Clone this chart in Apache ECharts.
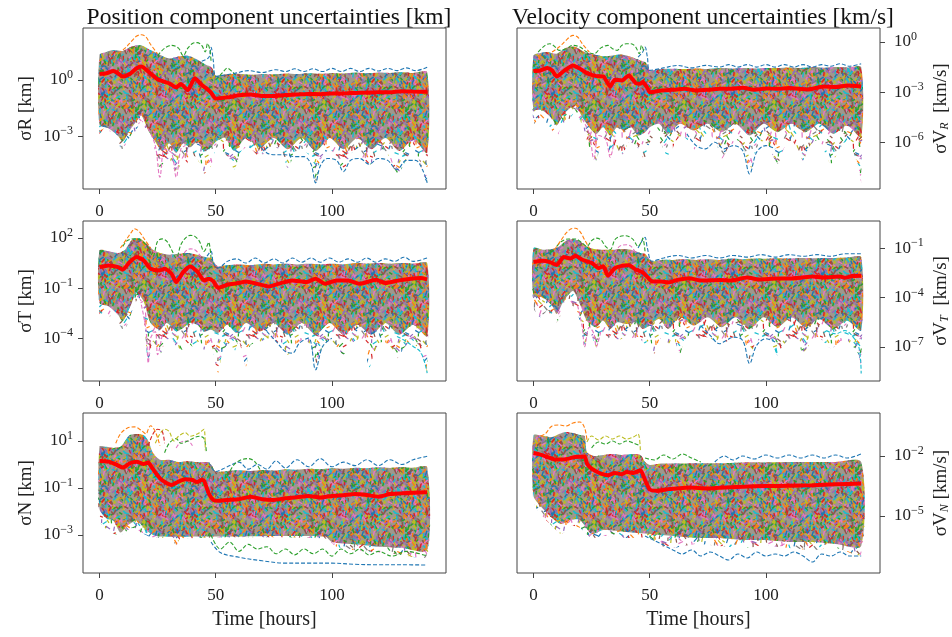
<!DOCTYPE html>
<html>
<head>
<meta charset="utf-8">
<script src="https://cdn.jsdelivr.net/npm/echarts@6.0.0/dist/echarts.min.js"></script>
<style>
html, body { margin: 0; padding: 0; background: #fff; }
#chart { width: 952px; height: 637px; }
</style>
</head>
<body>
<div id="chart"></div>
<script>
// all y values are log10 of the uncertainty, x values are hours
var hourTicks = [0, 50, 100]
var tab10 = ['#1f77b4', '#ff7f0e', '#2ca02c', '#d62728', '#9467bd', '#8c564b', '#e377c2', '#7f7f7f', '#bcbd22', '#17becf']

// ---- sigma R [km]
var rMean = [[0,0.32],[3,0.36],[6,0.48],[8,0.35],[10,0.18],[13,0.32],[16,0.63],[18,0.72],[21,0.45],[25,0.04],[28,-0.1],[30,-0.18],[33,-0.4],[35,-0.22],[38,-0.54],[41,0.09],[44,-0.27],[46,-0.45],[48,-0.68],[50,-0.99],[55,-0.93],[60,-0.82],[65,-0.78],[70,-0.86],[75,-0.85],[80,-0.8],[85,-0.78],[90,-0.75],[95,-0.76],[100,-0.72],[105,-0.72],[110,-0.69],[115,-0.67],[120,-0.65],[125,-0.66],[130,-0.6],[135,-0.62],[141,-0.63]]
var rUpper = [[0,1.35],[3,1.5],[6,1.6],[10,1.55],[14,1.8],[18,1.85],[22,1.6],[26,1.35],[30,1.15],[34,1.25],[38,1.3],[42,1.1],[46,0.8],[48,0.7],[49.5,0.4],[50,0.22],[55,0.3],[60,0.33],[65,0.28],[70,0.32],[75,0.3],[80,0.35],[85,0.32],[90,0.36],[95,0.33],[100,0.38],[105,0.35],[110,0.4],[115,0.36],[120,0.4],[125,0.38],[130,0.42],[135,0.38],[141,0.42]]
var rCore = [[0,-2.4],[4,-2.6],[8,-3.0],[10,-3.3],[13,-2.7],[16,-2.2],[18,-1.9],[21,-2.7],[24,-3.3],[27,-3.8],[30,-3.4],[33,-3.9],[36,-3.4],[39,-3.6],[42,-3.3],[45,-3.8],[48,-3.6],[50,-3.3],[54,-3.1],[58,-3.8],[63,-3.1],[69,-3.6],[75,-3.1],[81,-3.7],[87,-3.1],[93,-3.8],[99,-3.1],[105,-3.7],[111,-3.1],[117,-3.7],[123,-3.1],[129,-3.8],[135,-3.2],[141,-3.9]]
var rDeep = [[0,-2.9],[2,-2.6],[5,-2.8],[8,-3.3],[10,-3.9],[12,-3.2],[15,-2.9],[18,-2.2],[21,-3.0],[24,-3.8],[26,-4.7],[28,-4.5],[30,-4.2],[33,-5.0],[35,-4.5],[37,-4.8],[39,-4.0],[42,-4.2],[45,-5.0],[48,-4.6],[50,-3.8],[53,-3.8],[56,-4.3],[58,-4.8],[61,-3.8],[64,-3.6],[67,-3.9],[69,-4.2],[72,-3.7],[76,-3.6],[79,-4.0],[81,-4.7],[84,-4.0],[88,-3.8],[91,-4.2],[93,-5.5],[95,-4.3],[99,-3.7],[102,-4.2],[105,-4.8],[108,-4.0],[111,-3.7],[114,-4.3],[116,-4.6],[119,-4.0],[122,-3.7],[125,-4.2],[128,-5.1],[131,-4.5],[134,-3.9],[137,-4.1],[140,-5.3],[141,-5.5]]
var rOrangePeak = [[8,1.4],[11,1.7],[14,2.1],[16,2.35],[18,2.42],[20,2.3],[22,1.9],[25,1.4]]
var rGreenArcs = [[25,1.3],[28,1.7],[31,1.85],[34,1.7],[36,1.3],[38,1.7],[40,1.95],[42,2.0],[44,1.85],[45.5,1.5],[46.5,1.95],[47.5,1.6],[48,1.0]]
var rBlueTop = [[44,1.0],[47,1.2],[48,1.75],[49,1.0],[50,0.2],[58,0.35],[64,0.5],[70,0.4],[76,0.55],[80,0.45],[84,0.6],[88,0.45],[92,0.6],[96,0.45],[100,0.62],[104,0.45],[108,0.62],[112,0.45],[116,0.62],[120,0.48],[124,0.62],[128,0.5],[132,0.65],[136,0.5],[141,0.68]]
var rGreenTop = [[50,0.0],[53,0.4],[55,0.63],[57,0.45],[60,0.1]]
var rBlueLow = [[68,-3.4],[72,-3.9],[76,-4.0],[80,-4.0],[84,-4.1],[88,-4.1],[91,-4.5],[93,-5.5],[95,-4.6],[98,-4.2],[102,-4.3],[105,-4.9],[108,-4.3],[112,-4.2],[116,-4.5],[120,-4.2],[124,-4.3],[128,-4.8],[132,-4.3],[136,-4.3],[139,-4.8],[141,-5.5]]
var rPinkDips = [[21,-2.6],[24,-3.5],[26,-5.2],[28,-3.7],[31,-3.9],[33,-5.2],[35,-3.7],[37,-3.5]]

// ---- sigma V_R [km/s]
var vrMean = [[0,-1.74],[3,-1.7],[6,-1.56],[8,-1.7],[10,-2.06],[13,-1.74],[17,-1.4],[20,-1.6],[23,-1.86],[27,-2.04],[30,-2.06],[33,-2.66],[35,-2.26],[38,-2.3],[41,-2.0],[44,-2.46],[46,-2.5],[47,-2.4],[49,-2.74],[50,-3.0],[55,-2.9],[60,-2.86],[65,-2.8],[70,-2.9],[75,-2.86],[80,-2.8],[85,-2.8],[90,-2.74],[95,-2.86],[100,-2.78],[105,-2.8],[110,-2.76],[118,-2.84],[125,-2.66],[130,-2.7],[135,-2.6],[141,-2.66]]
var vrUpper = [[0,-0.8],[3,-0.65],[6,-0.6],[10,-0.7],[14,-0.35],[18,-0.3],[22,-0.6],[26,-0.75],[30,-0.85],[34,-0.8],[38,-0.75],[42,-0.9],[46,-1.1],[48,-1.2],[49.5,-1.5],[50,-1.7],[55,-1.62],[60,-1.6],[65,-1.62],[70,-1.58],[75,-1.62],[80,-1.56],[85,-1.58],[90,-1.55],[95,-1.58],[100,-1.55],[105,-1.56],[110,-1.52],[115,-1.55],[120,-1.5],[125,-1.54],[130,-1.5],[135,-1.52],[141,-1.5]]
var vrCore = [[0,-4.0],[4,-4.1],[8,-4.6],[10,-5.0],[13,-4.3],[18,-3.8],[21,-4.5],[24,-5.1],[27,-5.5],[30,-5.1],[33,-5.6],[36,-5.1],[39,-5.3],[42,-5.1],[45,-5.6],[48,-5.4],[50,-5.1],[54,-4.9],[58,-5.5],[63,-4.9],[69,-5.3],[75,-4.9],[81,-5.4],[87,-4.9],[93,-5.6],[99,-4.9],[105,-5.4],[111,-4.9],[117,-5.4],[123,-4.9],[129,-5.5],[135,-5.0],[141,-5.7]]
var vrDeep = [[0,-4.9],[3,-4.5],[6,-4.9],[8,-5.3],[10,-5.8],[12,-5.0],[15,-4.7],[18,-4.2],[21,-5.0],[24,-6.3],[26,-6.8],[27,-7.1],[29,-6.2],[31,-6.0],[33,-6.8],[35,-6.2],[38,-6.8],[41,-6.0],[44,-6.2],[46,-6.6],[48,-7.1],[50,-6.0],[53,-5.8],[56,-6.4],[58,-7.0],[61,-6.0],[64,-5.6],[67,-6.0],[70,-6.5],[73,-5.8],[76,-5.6],[79,-6.2],[81,-7.0],[84,-6.3],[88,-5.9],[91,-6.6],[93,-7.9],[95,-6.8],[99,-5.9],[102,-6.5],[105,-7.3],[108,-6.3],[111,-5.9],[114,-6.5],[116,-7.1],[119,-6.2],[122,-5.9],[125,-6.5],[128,-7.3],[131,-6.6],[134,-6.0],[137,-6.4],[140,-7.6],[141,-8.4]]
var vrOrangePeak = [[8,-0.6],[11,-0.3],[14,0.1],[16,0.35],[17,0.4],[19,0.3],[21,-0.1],[24,-0.6]]
var vrGreenArcs = [[2,-0.6],[5,-0.2],[7,-0.1],[9,-0.25],[11,-0.5],[14,-0.4],[17,-0.2],[20,-0.3],[23,-0.6],[26,-0.7],[29,-0.35],[32,-0.2],[34,-0.4],[36,-0.5],[38,-0.2],[40,-0.1],[42,-0.1],[44,-0.3],[45.5,-0.7],[46.5,-0.2],[47.5,-0.6]]
var vrPinkHigh = [[36,-1.3],[38,-1.0],[41,-0.9],[43,-1.0],[45,-1.3]]
var vrBlueTop = [[45,-0.9],[47,-0.6],[48,-0.3],[49,-0.9],[50,-1.7],[56,-1.55],[62,-1.4],[68,-1.55],[74,-1.4],[80,-1.5],[84,-1.35],[88,-1.5],[92,-1.35],[96,-1.5],[100,-1.35],[104,-1.5],[108,-1.35],[112,-1.5],[116,-1.35],[120,-1.5],[124,-1.35],[128,-1.45],[132,-1.3],[136,-1.45],[141,-1.3]]
var vrBlueLow = [[66,-5.5],[70,-6.2],[74,-6.4],[78,-6.0],[82,-6.4],[86,-6.2],[90,-6.5],[93,-7.9],[96,-6.6],[100,-6.2],[104,-6.4]]
var vrPinkDips = [[21,-4.6],[24,-5.5],[26,-7.0],[28,-5.6],[31,-5.8],[33,-6.9],[35,-5.6]]

// ---- sigma T [km]
var tMean = [[0,0.26],[4,0.36],[8,0.26],[10,0.1],[13,0.56],[16,0.86],[19,0.66],[22,0.16],[26,0.06],[28,0.16],[31,-0.14],[33,-0.64],[36,-0.04],[39,0.3],[42,0.0],[45,-0.54],[47,-0.44],[49,-0.6],[51,-0.98],[55,-0.8],[60,-0.7],[63,-0.6],[68,-0.75],[73,-0.9],[78,-0.7],[83,-0.54],[89,-0.64],[93,-0.44],[97,-0.74],[102,-0.54],[107,-0.55],[112,-0.74],[119,-0.5],[123,-0.7],[129,-0.54],[134,-0.44],[138,-0.4],[141,-0.48]]
var tUpper = [[0,1.26],[4,1.2],[8,1.1],[11,1.3],[14,1.9],[17,2.0],[20,1.7],[23,1.3],[26,1.1],[30,1.0],[34,1.05],[38,1.1],[42,1.0],[46,0.85],[48,0.8],[49.5,0.5],[51,0.3],[55,0.38],[60,0.42],[65,0.38],[70,0.45],[75,0.42],[80,0.46],[85,0.42],[90,0.46],[95,0.42],[100,0.46],[105,0.42],[110,0.5],[115,0.46],[120,0.5],[125,0.46],[130,0.5],[135,0.46],[141,0.5]]
var tCore = [[0,-1.9],[4,-2.1],[8,-2.6],[10,-3.0],[13,-2.2],[16,-1.3],[19,-1.8],[22,-3.1],[26,-3.5],[29,-3.1],[33,-3.6],[36,-3.4],[39,-3.1],[42,-3.2],[45,-3.6],[48,-3.5],[51,-3.7],[55,-3.2],[59,-3.7],[63,-3.1],[69,-3.6],[75,-3.1],[81,-3.8],[87,-3.1],[93,-3.8],[99,-3.1],[105,-3.8],[111,-3.2],[117,-3.8],[123,-3.1],[129,-3.8],[135,-3.2],[141,-3.9]]
var tDeep = [[0,-2.6],[3,-2.8],[6,-2.6],[8,-3.0],[10,-3.5],[12,-3.2],[15,-2.0],[17,-1.6],[19,-2.8],[21,-5.5],[23,-4.2],[26,-5.0],[28,-4.3],[31,-4.0],[33,-4.5],[36,-4.7],[38,-4.3],[40,-4.5],[43,-4.2],[45,-4.7],[48,-4.4],[51,-6.1],[53,-4.8],[56,-4.3],[58,-4.8],[60,-4.2],[63,-5.7],[65,-4.4],[69,-4.3],[72,-4.0],[75,-4.4],[78,-4.2],[81,-5.0],[84,-4.4],[88,-4.1],[91,-4.5],[93,-5.9],[95,-4.8],[99,-4.1],[102,-4.5],[105,-5.0],[108,-4.4],[111,-4.1],[114,-4.6],[116,-5.8],[119,-4.6],[122,-4.2],[125,-4.5],[128,-5.2],[131,-4.6],[134,-4.2],[137,-4.6],[140,-5.5],[141,-6.1]]
var tOrangePeak = [[9,1.4],[12,2.0],[14,2.4],[15,2.56],[17,2.4],[19,2.0],[22,1.4]]
var tGreenArcs = [[10,1.5],[12,1.85],[15,1.95],[18,1.85],[21,1.4],[23,0.9],[25,1.8],[27,1.95],[29,1.8],[31,1.3],[33,0.8],[35,1.6],[37,2.0],[39,2.16],[41,2.1],[43,1.8],[45,1.2],[46.5,1.6],[47,1.76],[48,0.8]]
var tPinkArc = [[35,0.8],[37,1.2],[39,1.35],[41,1.3],[43,1.0],[45,0.6]]
var tBlueTop = [[45,0.6],[48,1.2],[49,0.5],[51,0.2],[55,0.6],[59,0.75],[63,0.5],[67,0.8],[71,0.5],[75,0.75],[79,0.5],[83,0.8],[87,0.55],[91,0.8],[95,0.55],[99,0.8],[103,0.55],[107,0.75],[111,0.55],[115,0.8],[119,0.55],[123,0.75],[127,0.6],[131,0.85],[135,0.6],[141,0.8]]
var tBlueLow = [[72,-3.6],[76,-4.2],[80,-4.8],[83,-4.9],[86,-4.3],[90,-4.0],[93,-5.9],[96,-4.5],[100,-4.0]]
var tPinkDips = [[18,-2.0],[20,-3.5],[21,-5.5],[22,-4.0],[24,-3.6],[25,-5.0],[27,-3.8]]
var tCyanEnd = [[128,-3.9],[132,-4.2],[135,-4.5],[138,-4.8],[140,-5.5],[141,-6.1]]

// ---- sigma V_T [km/s]
var vtMean = [[0,-1.85],[4,-1.77],[7,-1.85],[10,-2.03],[13,-1.55],[16,-1.63],[18,-1.47],[21,-1.71],[25,-1.9],[28,-2.22],[30,-2.1],[32,-2.68],[35,-2.22],[38,-2.08],[41,-2.05],[44,-2.3],[47,-2.48],[49,-2.75],[51,-3.03],[55,-3.03],[58,-3.09],[62,-2.93],[67,-2.83],[72,-2.97],[80,-2.93],[85,-2.97],[92,-2.79],[97,-2.9],[105,-2.85],[110,-2.85],[115,-2.8],[120,-2.72],[125,-2.78],[132,-2.72],[134,-2.8],[137,-2.7],[141,-2.68]]
var vtUpper = [[0,-1.0],[4,-1.1],[8,-1.05],[11,-0.9],[14,-0.55],[17,-0.45],[20,-0.6],[23,-0.9],[26,-1.05],[30,-1.1],[34,-1.1],[38,-1.05],[42,-1.1],[46,-1.3],[48,-1.35],[49.5,-1.6],[51,-1.8],[55,-1.72],[60,-1.72],[65,-1.68],[70,-1.72],[75,-1.68],[80,-1.72],[85,-1.64],[90,-1.68],[95,-1.64],[100,-1.65],[105,-1.62],[110,-1.64],[115,-1.6],[120,-1.62],[125,-1.6],[130,-1.6],[135,-1.58],[141,-1.56]]
var vtCore = [[0,-3.9],[4,-4.0],[8,-4.5],[10,-5.0],[13,-4.2],[17,-3.6],[20,-4.4],[23,-5.4],[27,-5.8],[30,-5.4],[33,-5.9],[36,-5.5],[40,-5.6],[44,-5.5],[47,-5.9],[50,-5.7],[54,-5.3],[58,-5.9],[63,-5.2],[69,-5.7],[75,-5.2],[81,-5.8],[87,-5.2],[93,-5.9],[99,-5.2],[105,-5.8],[111,-5.2],[117,-5.8],[123,-5.3],[129,-5.9],[135,-5.4],[141,-6.0]]
var vtDeep = [[0,-4.6],[3,-5.2],[6,-4.8],[8,-5.2],[10,-5.5],[12,-5.0],[15,-4.5],[18,-4.6],[20,-5.5],[22,-7.0],[24,-6.0],[27,-7.0],[29,-6.2],[32,-6.5],[34,-6.2],[36,-6.6],[38,-6.5],[41,-6.2],[43,-6.5],[45,-6.4],[48,-6.8],[50,-6.6],[52,-7.4],[54,-6.6],[56,-6.4],[58,-6.9],[60,-6.4],[63,-7.4],[65,-6.6],[68,-6.2],[71,-6.5],[74,-6.4],[78,-6.6],[81,-6.8],[84,-6.6],[88,-6.4],[91,-6.7],[93,-8.0],[95,-6.9],[99,-6.4],[102,-6.7],[105,-7.5],[108,-6.8],[111,-6.5],[114,-6.8],[116,-7.4],[119,-6.8],[122,-6.4],[125,-6.7],[128,-7.1],[131,-6.8],[134,-6.5],[137,-6.9],[140,-7.5],[141,-8.6]]
var vtOrangePeak = [[9,-1.1],[12,-0.5],[14,-0.1],[16,0.15],[18,0.2],[20,0.0],[22,-0.5],[24,-1.0]]
var vtGreenArcs = [[10,-0.9],[12,-0.6],[15,-0.45],[18,-0.45],[21,-0.7],[23,-0.9],[25,-0.55],[27,-0.4],[29,-0.5],[31,-0.9],[33,-1.1],[35,-0.5],[37,-0.3],[39,-0.25],[41,-0.3],[43,-0.5],[45,-0.9],[46.5,-0.6],[47,-0.4],[48,-1.2]]
var vtPinkArc = [[35,-1.3],[37,-0.9],[40,-0.8],[42,-0.9],[44,-1.3]]
var vtBlueTop = [[45,-1.0],[47,-0.5],[48,-0.35],[49,-1.0],[51,-1.8],[56,-1.6],[62,-1.45],[68,-1.6],[74,-1.45],[80,-1.6],[86,-1.45],[92,-1.55],[98,-1.4],[104,-1.55],[110,-1.4],[116,-1.5],[122,-1.4],[128,-1.5],[134,-1.35],[141,-1.35]]
var vtBlueLow = [[72,-5.7],[76,-6.3],[80,-6.8],[83,-6.6],[86,-6.4],[90,-6.6],[93,-8.0],[96,-6.9],[100,-6.5],[104,-6.7]]
var vtPinkDips = [[19,-4.5],[21,-5.8],[22,-7.0],[24,-5.8],[26,-6.2],[27,-7.0],[29,-6.0]]
var vtCyanEnd = [[126,-6.0],[130,-6.2],[134,-6.0],[137,-6.3],[140,-7.0],[141,-8.6]]

// ---- sigma N [km]
var nMean = [[0,0.15],[4,0.12],[7,0.0],[10,-0.13],[13,0.05],[16,0.12],[19,0.02],[21,0.08],[23,-0.2],[26,-0.59],[29,-0.8],[31,-0.87],[34,-0.73],[37,-0.63],[40,-0.66],[42,-0.75],[44,-0.66],[45,-0.7],[47,-1.23],[49,-1.51],[51,-1.55],[55,-1.51],[60,-1.48],[65,-1.37],[70,-1.48],[75,-1.51],[80,-1.44],[85,-1.4],[90,-1.34],[95,-1.41],[100,-1.34],[105,-1.31],[110,-1.26],[115,-1.3],[120,-1.37],[125,-1.26],[130,-1.23],[135,-1.2],[141,-1.18]]
var nUpper = [[0,0.76],[3,0.75],[6,0.7],[9,0.75],[11,1.0],[13,1.25],[16,1.3],[19,1.25],[21,1.0],[23,0.5],[26,0.2],[30,0.2],[34,0.1],[38,0.15],[42,0.1],[46,0.1],[48,0.0],[50,-0.3],[55,-0.28],[60,-0.25],[65,-0.28],[70,-0.24],[75,-0.26],[80,-0.2],[85,-0.22],[90,-0.18],[95,-0.2],[100,-0.16],[105,-0.18],[110,-0.14],[115,-0.16],[120,-0.12],[125,-0.15],[130,-0.12],[135,-0.14],[141,-0.12]]
var nCore = [[0,-1.9],[3,-2.3],[6,-2.4],[9,-2.9],[12,-2.6],[16,-2.4],[20,-2.8],[23,-3.0],[26,-3.07],[50,-3.07],[97,-3.07],[100,-3.3],[110,-3.4],[120,-3.5],[130,-3.55],[141,-3.65]]
var nDeep = [[0,-2.4],[5,-2.9],[9,-3.0],[14,-2.7],[18,-2.9],[22,-3.1],[26,-3.12],[31,-3.15],[33,-3.45],[35,-3.15],[97,-3.15],[102,-3.5],[110,-3.65],[120,-3.75],[130,-3.85],[141,-3.9]]
var nOrangeArc = [[7,0.9],[9,1.3],[12,1.55],[15,1.6],[18,1.45],[20,1.3],[21,1.5],[22,1.65],[24,1.4],[26,0.8]]
var nRedArc = [[21,0.8],[23,1.3],[25,1.5],[27,1.4],[28,0.9]]
var nOliveArcs = [[24,0.9],[26,1.3],[28,1.5],[30,1.4],[32,1.0],[34,1.2],[37,1.35],[39,1.2],[41,1.25],[43,1.35],[45,1.5],[45.5,0.6]]
var nGreenArcs = [[28,0.5],[30,0.9],[33,1.1],[35,0.9],[38,1.0],[41,1.15],[43,1.2],[45,1.1],[46,0.5]]
var nPinkArc = [[33,0.7],[35,0.95],[38,1.0],[40,0.8]]
var nBlueTop = [[47,0.1],[50,-0.3],[55,-0.1],[60,0.1],[64,-0.2],[68,0.0],[72,-0.2],[76,0.15],[80,-0.15],[85,0.2],[90,-0.1],[95,0.25],[100,-0.1],[105,0.1],[110,-0.05],[115,0.2],[120,-0.05],[125,0.2],[130,0.0],[135,0.2],[141,0.35]]
var nGreenTop = [[55,-0.5],[58,0.0],[61,0.2],[64,0.25],[67,0.1],[70,-0.4]]
var nGreenLow = [[48,-3.0],[52,-3.6],[56,-3.3],[60,-3.7],[64,-3.4],[68,-3.6],[72,-3.5],[76,-3.8],[80,-3.6],[84,-3.85],[88,-3.6],[92,-3.8],[96,-3.6],[100,-3.9],[104,-3.6],[108,-3.8],[112,-3.6],[116,-3.85],[120,-3.7],[126,-3.9],[132,-3.7],[141,-3.9]]
var nBlueLow = [[48,-3.3],[52,-3.75],[60,-3.95],[70,-4.1],[80,-4.2],[90,-4.2],[100,-4.2],[110,-4.25],[120,-4.27],[130,-4.27],[141,-4.28]]

// ---- sigma V_N [km/s]
var vnMean = [[0,-1.85],[3,-1.93],[6,-2.05],[9,-2.17],[12,-2.18],[15,-2.13],[18,-2.05],[22,-2.02],[23,-2.38],[25,-2.63],[29,-2.88],[32,-2.96],[35,-2.85],[38,-2.91],[40,-2.8],[43,-2.85],[46,-2.71],[48,-3.2],[50,-3.67],[53,-3.74],[57,-3.67],[62,-3.62],[67,-3.58],[75,-3.62],[80,-3.59],[90,-3.54],[100,-3.5],[110,-3.49],[120,-3.46],[130,-3.41],[141,-3.38]]
var vnUpper = [[0,-0.97],[4,-1.0],[8,-1.05],[11,-0.9],[14,-0.8],[17,-0.85],[20,-0.95],[22,-1.0],[23,-1.8],[26,-2.0],[30,-1.95],[34,-1.9],[38,-1.95],[42,-1.9],[46,-1.95],[48,-2.3],[50,-2.45],[55,-2.38],[60,-2.38],[70,-2.36],[80,-2.36],[90,-2.32],[100,-2.32],[110,-2.3],[120,-2.3],[130,-2.3],[141,-2.3]]
var vnCore = [[0,-4.0],[3,-4.5],[8,-5.1],[12,-5.4],[16,-5.2],[20,-5.2],[25,-5.9],[30,-5.7],[40,-5.8],[50,-5.9],[60,-6.0],[70,-6.1],[80,-6.1],[90,-6.2],[100,-6.2],[110,-6.3],[120,-6.3],[130,-6.4],[141,-6.5]]
var vnDeep = [[0,-4.3],[3,-4.9],[8,-5.5],[12,-5.9],[16,-5.5],[20,-5.6],[25,-6.1],[30,-6.0],[40,-6.1],[50,-6.1],[55,-6.5],[60,-6.6],[70,-6.4],[80,-6.5],[90,-6.6],[100,-6.5],[110,-6.6],[120,-6.7],[130,-6.6],[141,-6.9]]
var vnOrangeArcs = [[3,-1.0],[5,-0.9],[8,-0.5],[11,-0.45],[14,-0.5],[17,-0.35],[20,-0.3],[22,-0.6],[23,-1.2]]
var vnOliveArcs = [[23,-1.3],[25,-1.0],[28,-1.2],[31,-1.0],[34,-1.15],[37,-1.0],[40,-1.15],[43,-1.05],[45,-0.9],[46,-1.8]]
var vnGreenArcs = [[25,-1.6],[28,-1.3],[31,-1.4],[34,-1.25],[37,-1.4],[40,-1.25],[43,-1.35],[46,-1.5]]
var vnGreenTop = [[48,-2.1],[52,-2.2],[56,-1.95],[60,-2.15],[64,-1.9],[68,-2.1],[72,-2.3]]
var vnBlueTop = [[78,-2.3],[82,-2.0],[86,-2.2],[90,-2.0],[95,-2.15],[100,-1.95],[105,-2.1],[110,-1.95],[115,-2.1],[120,-1.95],[125,-2.1],[130,-1.95],[135,-2.1],[141,-1.9]]
var vnBlueLow = [[48,-6.0],[55,-6.4],[60,-6.7],[64,-6.9],[68,-6.7],[72,-7.0],[76,-6.8],[80,-7.0],[84,-7.2],[88,-6.9],[92,-7.1],[96,-6.8],[100,-7.0],[104,-6.9],[108,-7.0],[112,-6.8],[116,-7.0],[120,-7.3],[124,-6.9],[128,-7.0],[132,-6.8],[136,-7.0],[141,-7.0]]

var serif = '"Liberation Serif", "DejaVu Serif", serif'

// fixed scatter for the texture tile (a hash, so the picture is the same on every run)
function hash(i, k) {
    var s = Math.sin(i * 12.9898 + k * 78.233) * 43758.5453
    return s - Math.floor(s)
}

// texture of many short coloured dashes, stands in for the bundle of trajectories
function makeTexture(dense) {
    var w = 90, h = 60
    var c = document.createElement('canvas')
    c.width = w
    c.height = h
    var g = c.getContext('2d')
    if (dense) {
        g.fillStyle = '#a0978c'
        g.fillRect(0, 0, w, h)
    }
    g.lineWidth = dense ? 1.5 : 1.2
    var n = dense ? 950 : 260
    for (var i = 0; i < n; i++) {
        var x = hash(i, 1) * w
        var y = hash(i, 2) * h
        var ang = (hash(i, 3) - 0.5) * 2.4
        var len = 3 + hash(i, 4) * 2.5
        var dx = Math.sin(ang) * len, dy = Math.cos(ang) * len
        g.strokeStyle = tab10[Math.floor(hash(i, 5) * 10)]
        for (var ox = -w; ox <= w; ox += w) {
            for (var oy = -h; oy <= h; oy += h) {
                g.beginPath()
                g.moveTo(x + ox, y + oy)
                g.lineTo(x + ox + dx, y + oy + dy)
                g.stroke()
            }
        }
    }
    return c
}
var denseTex = makeTexture(true)
var sparseTex = makeTexture(false)

var panels = [
    {
        col: 0, row: 0, yMin: -5.83, yMax: 2.78, ticks: [0, -3], name: 'σR [km]',
        mean: rMean, upper: rUpper, core: rCore, deep: rDeep,
        extra: [[rPinkDips, 6], [rBlueLow, 0], [rGreenTop, 2], [rBlueTop, 0], [rGreenArcs, 2], [rOrangePeak, 1]]
    },
    {
        col: 1, row: 0, yMin: -8.8, yMax: 0.84, ticks: [0, -3, -6], name: '{n|σV}{sub|R}{n|  [km/s]}',
        mean: vrMean, upper: vrUpper, core: vrCore, deep: vrDeep,
        extra: [[vrPinkDips, 6], [vrBlueLow, 0], [vrBlueTop, 0], [vrPinkHigh, 6], [vrGreenArcs, 2], [vrOrangePeak, 1]]
    },
    {
        col: 0, row: 1, yMin: -6.57, yMax: 3.02, ticks: [2, -1, -4], name: 'σT [km]',
        mean: tMean, upper: tUpper, core: tCore, deep: tDeep,
        extra: [[tPinkDips, 6], [tBlueLow, 0], [tCyanEnd, 9], [tBlueTop, 0], [tPinkArc, 6], [tGreenArcs, 2], [tOrangePeak, 1]]
    },
    {
        col: 1, row: 1, yMin: -9.06, yMax: 0.64, ticks: [-1, -4, -7], name: '{n|σV}{sub|T}{n|  [km/s]}',
        mean: vtMean, upper: vtUpper, core: vtCore, deep: vtDeep,
        extra: [[vtPinkDips, 6], [vtBlueLow, 0], [vtCyanEnd, 9], [vtBlueTop, 0], [vtPinkArc, 6], [vtGreenArcs, 2], [vtOrangePeak, 1]]
    },
    {
        col: 0, row: 2, yMin: -4.62, yMax: 2.19, ticks: [1, -1, -3], name: 'σN [km]',
        mean: nMean, upper: nUpper, core: nCore, deep: nDeep,
        extra: [[nBlueLow, 0], [nGreenLow, 2], [nBlueTop, 0], [nGreenTop, 2], [nPinkArc, 6], [nGreenArcs, 2], [nOliveArcs, 8], [nRedArc, 3], [nOrangeArc, 1]]
    },
    {
        col: 1, row: 2, yMin: -7.85, yMax: 0.15, ticks: [-2, -5], name: '{n|σV}{sub|N}{n| [km/s]}',
        mean: vnMean, upper: vnUpper, core: vnCore, deep: vnDeep,
        extra: [[vnBlueLow, 0], [vnBlueTop, 0], [vnGreenTop, 2], [vnGreenArcs, 2], [vnOliveArcs, 8], [vnOrangeArcs, 1]]
    }
]

var gridLeft = [83, 517]
var gridTop = [28, 221, 413]
var gridHeight = [161, 160, 160]

function bandRenderer(upper, lower, tex) {
    return function(params, api) {
        var pts = []
        upper.forEach(function(p) { pts.push(api.coord(p)) })
        for (var i = lower.length - 1; i >= 0; i--) {
            pts.push(api.coord(lower[i]))
        }
        return {
            type: 'polygon',
            shape: { points: pts, smooth: 0.25 },
            style: { fill: { image: tex, repeat: 'repeat' } }
        }
    }
}

function powLabel(v) {
    var s = v < 0 ? '\u2212' + (-v) : String(v)
    return '{b|10}{s|' + s + '}'
}

var grids = [], xAxes = [], yAxes = [], series = []

panels.forEach(function(p, i) {
    grids.push({
        left: gridLeft[p.col], top: gridTop[p.row], width: 363, height: gridHeight[p.row],
        containLabel: false, outerBoundsMode: 'none',
        show: true, borderColor: '#444', borderWidth: 1, backgroundColor: 'transparent'
    })
    xAxes.push({
        type: 'value', gridIndex: i, min: -7.1, max: 149.1, position: 'bottom',
        axisLine: { show: false, onZero: false },
        splitLine: { show: false },
        axisTick: { show: true, customValues: hourTicks, length: 5, lineStyle: { color: '#444' } },
        axisLabel: { customValues: hourTicks, fontFamily: serif, fontSize: 17, color: '#222', margin: 14 },
        name: p.row === 2 ? 'Time [hours]' : '',
        nameLocation: 'middle', nameGap: 37,
        nameTextStyle: { fontFamily: serif, fontSize: 20, color: '#222' }
    })
    var right = p.col === 1
    yAxes.push({
        type: 'value', gridIndex: i, min: p.yMin, max: p.yMax,
        position: right ? 'right' : 'left',
        axisLine: { show: false, onZero: false },
        splitLine: { show: false },
        axisTick: { show: true, customValues: p.ticks, length: 5, lineStyle: { color: '#444' } },
        axisLabel: {
            customValues: p.ticks, margin: right ? 14 : 10,
            formatter: powLabel,
            rich: {
                b: { fontFamily: serif, fontSize: 17, color: '#222', lineHeight: 22 },
                s: { fontFamily: serif, fontSize: 12, color: '#222', verticalAlign: 'top', lineHeight: 12 }
            }
        },
        name: p.name, nameLocation: 'middle', nameRotate: 90,
        nameGap: right ? 52 : 47,
        nameTextStyle: {
            fontFamily: serif, fontSize: 19, color: '#222',
            rich: {
                n: { fontFamily: serif, fontSize: 19, color: '#222' },
                sub: { fontFamily: serif, fontSize: 12, fontStyle: 'italic', color: '#222', verticalAlign: 'bottom', lineHeight: 10 }
            }
        }
    })

    series.push({
        type: 'custom', xAxisIndex: i, yAxisIndex: i, silent: true, z: 1,
        data: [[0, 0]], renderItem: bandRenderer(p.upper, p.deep, sparseTex)
    })
    series.push({
        type: 'custom', xAxisIndex: i, yAxisIndex: i, silent: true, z: 2,
        data: [[0, 0]], renderItem: bandRenderer(p.upper, p.core, denseTex)
    })
    p.extra.forEach(function(ex) {
        series.push({
            type: 'line', xAxisIndex: i, yAxisIndex: i, data: ex[0], z: 3,
            symbol: 'none', smooth: 0.35, silent: true,
            lineStyle: { color: tab10[ex[1]], width: 1.1, type: [4, 2] }
        })
    })
    series.push({
        type: 'line', xAxisIndex: i, yAxisIndex: i, data: p.mean, z: 4,
        symbol: 'none', smooth: 0.2, silent: true,
        lineStyle: { color: '#ff0000', width: 4 }
    })
})

var chart = echarts.init(document.getElementById('chart'), null, { renderer: 'canvas' })
chart.setOption({
    animation: false,
    backgroundColor: '#fff',
    title: [{
        text: 'Position component uncertainties [km]',
        left: 264, top: 1, textAlign: 'center',
        textStyle: { fontFamily: serif, fontSize: 23.5, fontWeight: 'normal', color: '#111' }
    }, {
        text: 'Velocity component uncertainties [km/s]',
        left: 698, top: 1, textAlign: 'center',
        textStyle: { fontFamily: serif, fontSize: 23.5, fontWeight: 'normal', color: '#111' }
    }],
    grid: grids,
    xAxis: xAxes,
    yAxis: yAxes,
    series: series
})
</script>
</body>
</html>
